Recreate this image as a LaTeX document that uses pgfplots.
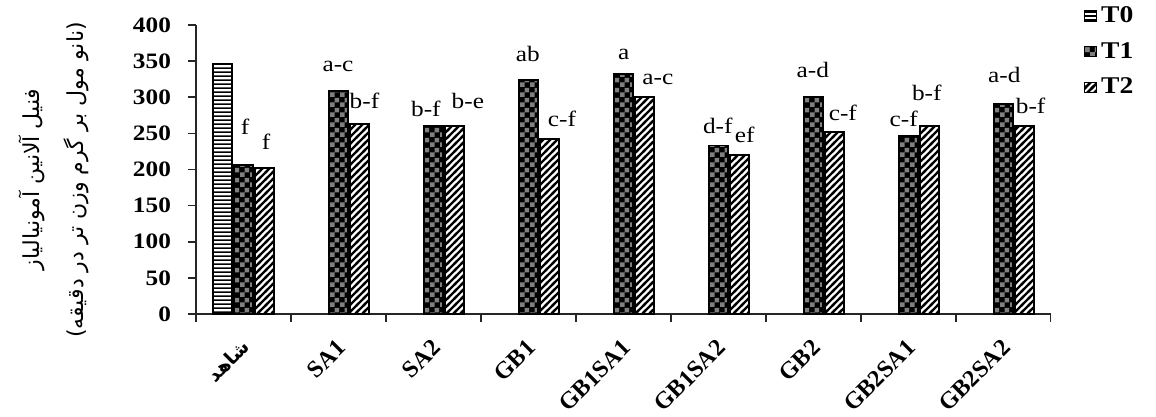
\documentclass[border=0pt]{standalone}
\usepackage{fontspec}
\setmainfont{Liberation Serif}[FakeStretch=1.15]
\newfontfamily\plainserif{Liberation Serif}
\newfontfamily\arabicfont[Script=Arabic]{DejaVu Sans}
\TeXXeTstate=1
\usepackage{pgfplots}
\pgfplotsset{compat=1.18}
\usetikzlibrary{patterns}

\pgfdeclarepatternformonly{hlines}{\pgfpointorigin}{\pgfqpoint{20pt}{2pt}}{\pgfqpoint{20pt}{2pt}}{%
  \pgfpathrectangle{\pgfpointorigin}{\pgfqpoint{20pt}{1pt}}\pgfusepath{fill}}
\pgfdeclarepatternformonly{diag}{\pgfqpoint{-1pt}{-1pt}}{\pgfqpoint{4.5pt}{4.5pt}}{\pgfqpoint{3.5pt}{3.5pt}}{%
  \pgfsetlinewidth{1.1pt}\pgfpathmoveto{\pgfqpoint{-1pt}{-1pt}}\pgfpathlineto{\pgfqpoint{4.5pt}{4.5pt}}\pgfusepath{stroke}}
\pgfdeclarepatternformonly{checker}{\pgfpointorigin}{\pgfqpoint{5pt}{5pt}}{\pgfqpoint{5pt}{5pt}}{%
  \pgfpathrectangle{\pgfpointorigin}{\pgfqpoint{2.5pt}{2.5pt}}%
  \pgfpathrectangle{\pgfqpoint{2.5pt}{2.5pt}}{\pgfqpoint{2.5pt}{2.5pt}}\pgfusepath{fill}}

\begin{document}
\begin{tikzpicture}
\path[use as bounding box] (-98pt,-51.5pt) rectangle (480pt,157pt);
\begin{axis}[
  scale only axis, width=427.35pt, height=144.5pt,
  xmin=-0.5, xmax=8.5, ymin=0, ymax=400,
  axis x line*=bottom, axis y line*=left,
  axis line style={black!85, line width=0.8pt},
  tick style={black!85, line width=0.8pt},
  tick align=outside, major tick length=4pt,
  ytick={0,50,...,400},
  yticklabel style={xshift=-5pt},
  xtick={-0.5,0.5,...,8.5}, xticklabels={},
  extra x ticks={0,1,...,8},
  extra x tick labels={{\arabicfont\bfseries\fontsize{9.5}{11}\selectfont\beginR شاهد\endR},SA1,SA2,GB1,GB1SA1,GB1SA2,GB2,GB2SA1,GB2SA2},
  extra x tick style={major tick length=0pt, tick label style={rotate=45, anchor=north east, xshift=-6pt, yshift=-4pt, font=\plainserif\bfseries\fontsize{12}{14}\selectfont}},
  /pgf/number format/assume math mode=true,
  tick label style={font=\bfseries\fontsize{11}{13}\selectfont, black},
  legend style={at={(1.038,1.08)}, anchor=north west, draw=none, fill=none,
    font=\bfseries\fontsize{12}{14}\selectfont, row sep=4.5pt, inner sep=0pt},
  legend cell align=left,
  clip=false,
]
\addplot[ybar, bar width=9.5pt, bar shift=-10.5pt, draw=black, line width=0.8pt, fill=white, postaction={pattern=hlines, pattern color=black},
  legend image code/.code={\draw[draw=black, line width=0.8pt, fill=white, postaction={pattern=hlines}] (0pt,-2.5pt) rectangle (6pt,2.5pt);}]
  coordinates {(0,346)};
\addlegendentry{T0}
\addplot[ybar, bar width=9.5pt, bar shift=0pt, draw=black, line width=0.8pt, fill=black, postaction={pattern=checker, pattern color=black!50},
  legend image code/.code={\draw[draw=black, line width=0.8pt, fill=black, postaction={pattern=checker, pattern color=black!50}] (0pt,-2.5pt) rectangle (6pt,2.5pt);}]
  coordinates {(0,206) (1,309) (2,260) (3,324) (4,332) (5,233) (6,300) (7,246) (8,291)};
\addlegendentry{T1}
\addplot[ybar, bar width=9.5pt, bar shift=10.5pt, draw=black, line width=0.8pt, fill=white, postaction={pattern=diag, pattern color=black},
  legend image code/.code={\draw[draw=black, line width=0.8pt, fill=white, postaction={pattern=diag}] (0pt,-2.5pt) rectangle (6pt,2.5pt);}]
  coordinates {(0,202) (1,263) (2,260) (3,242) (4,300) (5,220) (6,252) (7,260) (8,260)};
\addlegendentry{T2}

\begin{scope}[every node/.style={anchor=base, inner sep=0pt, font=\fontsize{11}{13}\selectfont}]
\node at (axis cs:0.016,247.8) {f};
\node at (axis cs:0.995,335) {a-c};
\node at (axis cs:1.921,273) {b-f};
\node at (axis cs:2.995,349) {ab};
\node at (axis cs:4.005,352) {a};
\node at (axis cs:4.995,250.5) {d-f};
\node at (axis cs:5.995,327) {a-d};
\node at (axis cs:6.953,260) {c-f};
\node at (axis cs:8.011,320) {a-d};
\node at (axis cs:0.237,227) {f};
\node at (axis cs:1.274,285) {b-f};
\node at (axis cs:2.363,285) {b-e};
\node at (axis cs:3.353,259) {c-f};
\node at (axis cs:4.363,317) {a-c};
\node at (axis cs:5.279,237) {ef};
\node at (axis cs:6.311,268.5) {c-f};
\node at (axis cs:7.195,296) {b-f};
\node at (axis cs:8.289,278) {b-f};
\end{scope}
\end{axis}
\node[rotate=90, align=center, font=\arabicfont\fontsize{11}{22}\selectfont] at (-71pt,67.2pt)
  {\beginR فنیل آلانین آمونیالیاز\endR\\\beginR (نانو مول بر گرم وزن تر در دقیقه)\endR};
\end{tikzpicture}
\end{document}
